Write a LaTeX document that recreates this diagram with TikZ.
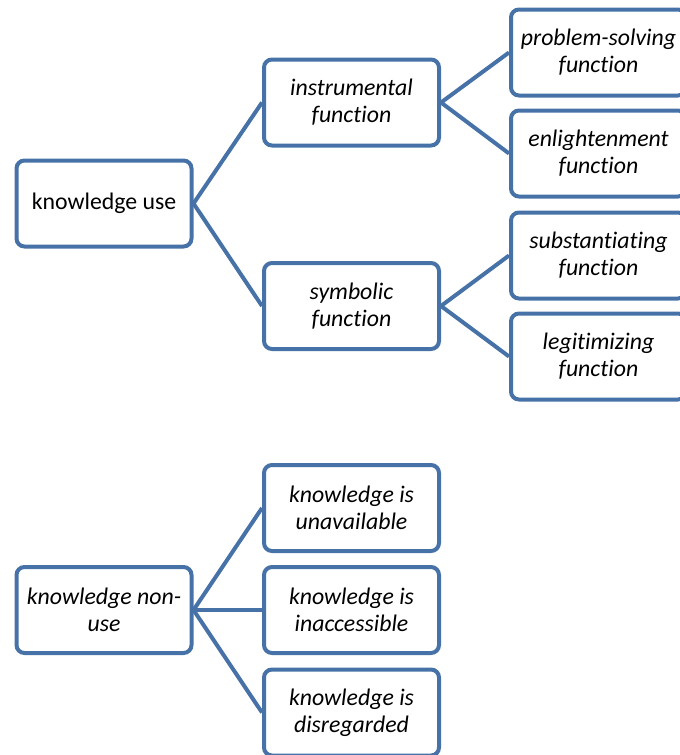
\documentclass[tikz,border=0pt]{standalone}
\usepackage{fontspec}
\setmainfont{Carlito}[Ligatures=NoCommon]
\definecolor{boxblue}{RGB}{70,114,168}
\tikzset{
	kbox/.style={draw=boxblue, line width=4pt, rounded corners=8pt, fill=white,
		minimum width=175pt, minimum height=86pt, align=center, inner sep=2pt,
		font=\fontsize{23.8}{27}\selectfont\itshape},
	kline/.style={boxblue, line width=4pt}
}
\begin{document}
\begin{tikzpicture}[x=1pt, y=-1pt]
		\useasboundingbox (0,0) rectangle (680,755);
		% knowledge use
		\node[kbox, font=\fontsize{23.8}{27}\selectfont] (use) at (104,203.5){knowledge use};
		\node[kbox] (instr) at (351.5,102.5){instrumental\\function};
		\node[kbox] (symb) at (351.5,306){symbolic\\function};
		\node[kbox] (prob) at (598.5,52.5){problem-solving\\function};
		\node[kbox] (enl) at (598.5,153.5){enlightenment\\function};
		\node[kbox] (subst) at (598.5,255.5){substantiating\\function};
		\node[kbox] (legit) at (598.5,356.5){legitimizing\\function};
		\draw[kline] (instr.west) -- (use.east) -- (symb.west);
		\draw[kline] (prob.west) -- (instr.east) -- (enl.west);
		\draw[kline] (subst.west) -- (symb.east) -- (legit.west);
		% knowledge non-use
		\node[kbox] (nonuse) at (104,610){knowledge non-\\use};
		\node[kbox] (unav) at (351.5,508){knowledge is\\unavailable};
		\node[kbox] (inacc) at (351.5,610){knowledge is\\inaccessible};
		\node[kbox] (disr) at (351.5,712.5){knowledge is\\disregarded};
		\draw[kline] (nonuse.east) -- (unav.west);
		\draw[kline] (nonuse.east) -- (inacc.west);
		\draw[kline] (nonuse.east) -- (disr.west);
	\end{tikzpicture}
\end{document}
